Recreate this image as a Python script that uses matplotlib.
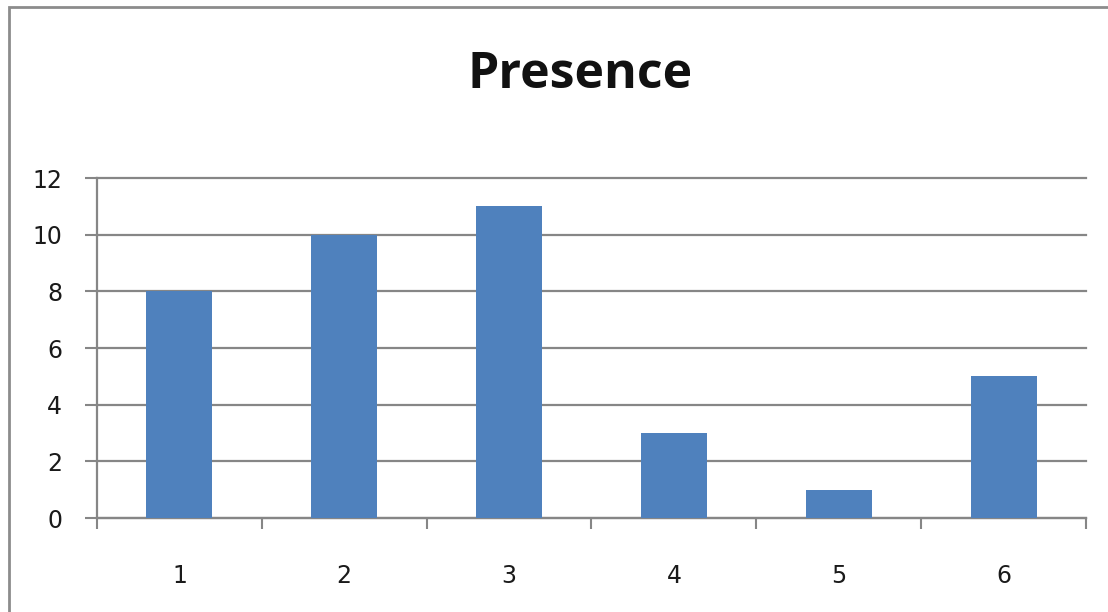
import matplotlib.pyplot as plt
from matplotlib.patches import Rectangle

# presence counts per group
groups = ['1', '2', '3', '4', '5', '6']
presence = [8, 10, 11, 3, 1, 5]
yticks = [0, 2, 4, 6, 8, 10, 12]

bar_color = '#4F81BD'
line_color = '#868686'

fig = plt.figure(figsize=(11.08, 6.12), dpi=100)
ax = fig.add_axes([97 / 1108, 1 - 518 / 612, (1086 - 97) / 1108, (518 - 178) / 612])

x = range(len(groups))
ax.bar(x, presence, width=0.4, color=bar_color, zorder=3)

ax.set_xlim(-0.5, len(groups) - 0.5)
ax.set_ylim(0, 12)
ax.set_yticks(yticks)
ax.set_yticklabels([str(v) for v in yticks])

# category labels in the middle, tick marks on the boundaries
ax.set_xticks(list(x))
ax.set_xticklabels(groups)
ax.set_xticks([i - 0.5 for i in range(len(groups) + 1)], minor=True)
ax.tick_params(axis='x', which='major', length=0, pad=33, labelsize=17, labelcolor='#1a1a1a')
ax.tick_params(axis='x', which='minor', length=8, width=1.5, color=line_color, direction='out')
ax.tick_params(axis='y', length=9, width=1.5, color=line_color, pad=16, labelsize=17, labelcolor='#1a1a1a')

ax.grid(axis='y', color=line_color, linewidth=1.6, zorder=0)
# keep the top gridline full width instead of half-clipped
for gl in ax.get_ygridlines():
    gl.set_clip_on(False)
for side in ['top', 'right']:
    ax.spines[side].set_visible(False)
for side in ['left', 'bottom']:
    ax.spines[side].set_color(line_color)
    ax.spines[side].set_linewidth(1.6)

fig.text(580 / 1108, 1 - 75 / 612, 'Presence', ha='center', va='center',
         fontsize=36, fontweight='bold', family='Open Sans', color='#111111')

# chart border (right and bottom edges run off the canvas)
fig.patches.append(Rectangle((9 / 1108, -0.1), 1.2, 1.1 - 7 / 612, transform=fig.transFigure,
                             fill=False, edgecolor='#8c8c8c', linewidth=2))

fig.savefig('out.png', dpi=100)
